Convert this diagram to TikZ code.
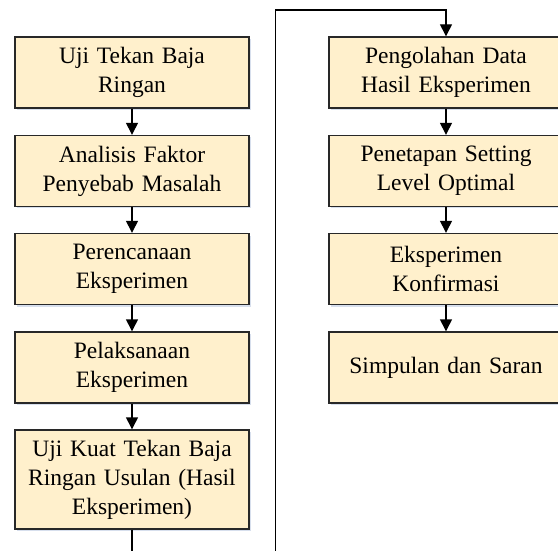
\documentclass[tikz,border=0pt]{standalone}
\usepackage{fontspec}
\setmainfont{Liberation Serif}
\usetikzlibrary{arrows.meta,shadows}
\definecolor{boxfill}{RGB}{255,240,204}
\definecolor{boxline}{RGB}{40,40,40}
\definecolor{shadowc}{RGB}{205,215,232}
\tikzset{
  stepbox/.style={draw=boxline, line width=1.4pt, fill=boxfill, minimum width=234pt,
    minimum height=71pt, text width=228pt, align=center, inner sep=0pt,
    font=\fontsize{23.5}{29}\selectfont,
    drop shadow={shadow xshift=2pt, shadow yshift=-2pt, fill=shadowc, opacity=0.8}},
  conn/.style={line width=1.4pt, -{Triangle[width=12pt,length=12pt]}},
  plain/.style={line width=1.4pt}
}
\begin{document}
\begin{tikzpicture}[x=1pt,y=1pt]
\useasboundingbox (0,0) rectangle (558,-551);
\clip (0,0) rectangle (558,-551);
\node[stepbox] (a1) at (132,-72.5) {Uji Tekan Baja\\Ringan};
\node[stepbox] (a2) at (132,-171) {Analisis Faktor\\Penyebab Masalah};
\node[stepbox] (a3) at (132,-269) {Perencanaan\\Eksperimen};
\node[stepbox] (a4) at (132,-367.5) {Pelaksanaan\\Eksperimen};
\node[stepbox, minimum height=99pt] (a5) at (132,-479.5) {Uji Kuat Tekan Baja\\Ringan Usulan (Hasil\\Eksperimen)};
\node[stepbox] (b1) at (446,-72.5) {Pengolahan Data\\Hasil Eksperimen};
\node[stepbox] (b2) at (446,-171) {Penetapan Setting\\Level Optimal};
\node[stepbox] (b3) at (446,-269) {Eksperimen\\Konfirmasi};
\node[stepbox] (b4) at (446,-367.5) {Simpulan dan Saran};
\coordinate (e1) at (132,-560);
\coordinate (e2) at (275.5,-560);
\coordinate (t) at (275.5,-10);
\draw[conn] (a1) -- (a2);
\draw[conn] (a2) -- (a3);
\draw[conn] (a3) -- (a4);
\draw[conn] (a4) -- (a5);
\draw[plain] (a5) -- (e1);
\draw[conn] (e2) -- (t) -| (b1);
\draw[conn] (b1) -- (b2);
\draw[conn] (b2) -- (b3);
\draw[conn] (b3) -- (b4);
\end{tikzpicture}
\end{document}
